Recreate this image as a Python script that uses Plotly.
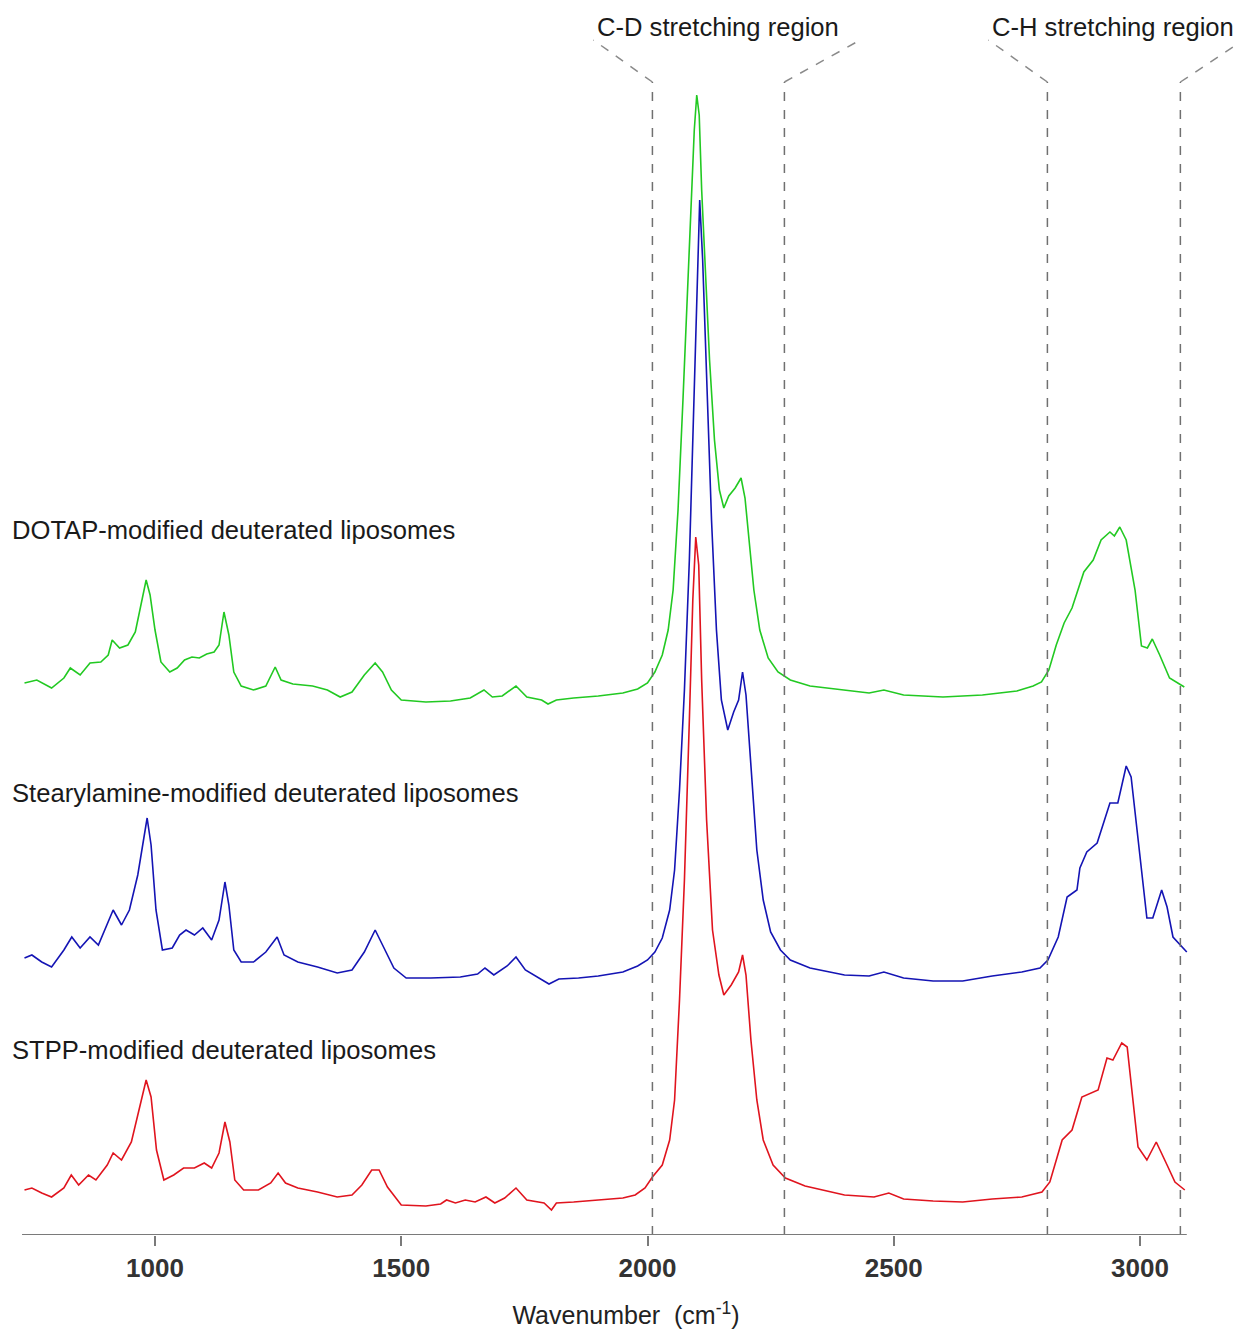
import plotly.graph_objects as go

# ---------------- data ----------------
# Raman intensity (arbitrary units, stacked spectra as displayed)
dotap_wn = [735, 760, 790, 815, 828, 848, 868, 890, 905, 913, 928, 945, 960, 972, 982, 990, 1000, 1012,
            1030, 1045, 1060, 1075, 1090, 1105, 1120, 1130, 1140, 1150, 1160, 1175, 1200, 1225, 1244, 1256,
            1280, 1320, 1350, 1376, 1400, 1425, 1447, 1462, 1480, 1500, 1550, 1600, 1640, 1668, 1685, 1705,
            1733, 1755, 1785, 1798, 1815, 1850, 1900, 1950, 1980, 2000, 2015, 2030, 2042, 2052, 2062, 2072,
            2082, 2090, 2095, 2100, 2105, 2110, 2118, 2126, 2136, 2146, 2155, 2165, 2178, 2190, 2198, 2206,
            2216, 2228, 2245, 2265, 2290, 2330, 2400, 2450, 2480, 2520, 2600, 2680, 2750, 2783, 2800, 2815,
            2830, 2846, 2862, 2886, 2905, 2921, 2939, 2948, 2959, 2972, 2990, 3003, 3015, 3025, 3040, 3060,
            3090]
dotap_int = [552, 555, 547, 557, 567, 560, 572, 573, 580, 595, 587, 590, 603, 630, 655, 640, 605, 573,
             563, 567, 575, 578, 577, 581, 583, 590, 623, 600, 563, 549, 545, 549, 568, 555,
             551, 549, 545, 538, 543, 560, 572, 563, 545, 535, 533, 534, 537, 545, 538, 539,
             549, 538, 535, 531, 535, 537, 539, 542, 546, 552, 563, 580, 605, 645, 725, 835,
             955, 1045, 1105, 1140, 1120, 1045, 960, 875, 795, 745, 727, 739, 747, 757, 737, 695,
             645, 605, 577, 563, 555, 549, 545, 542, 545, 540, 538, 540, 544, 549, 553, 565,
             590, 612, 627, 663, 675, 695, 703, 699, 708, 695, 645, 589, 587, 596, 580, 557,
             548]

stearyl_wn = [735, 750, 770, 790, 815, 831, 848, 868, 885, 903, 915, 932, 948, 965, 976, 984, 992, 1002,
              1015, 1035, 1050, 1063, 1080, 1097, 1115, 1130, 1142, 1150, 1160, 1175, 1200, 1225, 1248, 1262,
              1290, 1330, 1370, 1400, 1425, 1447, 1462, 1485, 1510, 1560, 1620, 1655, 1670, 1688, 1715, 1733,
              1752, 1785, 1800, 1820, 1860, 1900, 1950, 1980, 2000, 2015, 2030, 2045, 2055, 2065, 2075, 2085,
              2093, 2100, 2106, 2112, 2120, 2130, 2140, 2150, 2163, 2175, 2185, 2193, 2200, 2210, 2222, 2235,
              2250, 2270, 2290, 2330, 2400, 2450, 2480, 2520, 2580, 2640, 2700, 2760, 2797, 2813, 2834, 2852,
              2872, 2878, 2892, 2913, 2939, 2955, 2972, 2982, 3000, 3014, 3026, 3044, 3055, 3067, 3095]
stearyl_int = [277, 280, 273, 268, 285, 298, 287, 298, 290, 310, 325, 310, 325, 360, 395, 417, 390, 325,
               285, 287, 300, 305, 300, 307, 295, 315, 353, 330, 285, 273, 273, 283, 298, 280,
               273, 268, 262, 265, 283, 305, 290, 267, 257, 257, 258, 261, 267, 260, 269, 278,
               265, 255, 251, 256, 257, 259, 263, 269, 275, 283, 297, 325, 365, 445, 545, 675,
               815, 955, 1035, 975, 855, 715, 605, 535, 505, 523, 535, 563, 540, 465, 385, 335,
               303, 285, 275, 267, 260, 259, 263, 257, 254, 254, 259, 263, 267, 275, 298, 338,
               345, 367, 383, 392, 432, 432, 469, 458, 375, 317, 317, 345, 328, 298, 283]

stpp_wn = [735, 750, 770, 790, 815, 830, 845, 865, 880, 903, 915, 932, 952, 968, 982, 992, 1003, 1018,
           1038, 1058, 1080, 1100, 1115, 1130, 1142, 1152, 1162, 1180, 1210, 1235, 1250, 1265, 1290, 1330,
           1370, 1400, 1420, 1440, 1455, 1472, 1500, 1550, 1580, 1592, 1610, 1630, 1650, 1672, 1690, 1710,
           1733, 1755, 1790, 1805, 1815, 1850, 1900, 1950, 1975, 1995, 2010, 2030, 2045, 2055, 2065, 2075,
           2085, 2092, 2098, 2104, 2110, 2120, 2132, 2145, 2155, 2170, 2185, 2193, 2200, 2210, 2222, 2235,
           2255, 2280, 2320, 2400, 2460, 2490, 2520, 2580, 2640, 2700, 2760, 2801, 2817, 2842, 2862, 2882,
           2915, 2933, 2945, 2963, 2974, 2996, 3014, 3033, 3055, 3071, 3091]
stpp_int = [45, 47, 42, 38, 47, 60, 50, 60, 55, 70, 82, 75, 93, 125, 155, 138, 85, 55,
            60, 67, 67, 72, 67, 82, 113, 93, 55, 45, 45, 52, 62, 52, 47, 43,
            38, 40, 50, 65, 65, 48, 30, 29, 31, 35, 32, 35, 33, 38, 32, 37,
            47, 35, 32, 25, 32, 33, 35, 37, 40, 47, 58, 70, 95, 135, 235, 355,
            515, 635, 698, 670, 555, 415, 305, 260, 240, 250, 263, 280, 260, 195, 135, 95,
            70, 57, 49, 40, 38, 42, 36, 34, 33, 36, 38, 43, 53, 95, 105, 138,
            145, 177, 175, 192, 188, 88, 75, 93, 70, 53, 45]

series_names = ["DOTAP-modified deuterated liposomes",
                "Stearylamine-modified deuterated liposomes",
                "STPP-modified deuterated liposomes"]
series_colors = ["#22c922", "#1414b4", "#e0141e"]
label_levels = [705, 442, 185]          # label heights (intensity units)

region_bounds = [2010, 2278, 2812, 3082]  # cm-1, dashed region limits
region_labels = ["C-D stretching region", "C-H stretching region"]
region_label_x = [2143, 2945]

tick_vals = [1000, 1500, 2000, 2500, 3000]
x_min, x_max = 730, 3095

# ---------------- figure ----------------
fig = go.Figure()
for wn, inten, name, col in zip([dotap_wn, stearyl_wn, stpp_wn],
                                [dotap_int, stearyl_int, stpp_int],
                                series_names, series_colors):
    fig.add_trace(go.Scatter(x=wn, y=inten, mode="lines", name=name,
                             line=dict(color=col, width=1.6), showlegend=False))

FONT = "Liberation Sans, Arial, sans-serif"

for name, lv in zip(series_names, label_levels):
    fig.add_annotation(x=706, y=lv, xref="x", yref="y", text=name, showarrow=False,
                       xanchor="left", yanchor="middle",
                       font=dict(family=FONT, size=25.6, color="#1a1a1a"))

# dashed region markers
top_v = 1153
top_d = 1195
offsets = [-120, 154, -120, 128]
for b, off in zip(region_bounds, offsets):
    fig.add_shape(type="line", x0=b, x1=b, y0=0, y1=top_v, xref="x", yref="y",
                  line=dict(color="#707070", width=1.5, dash="dash"))
    fig.add_shape(type="line", x0=b, x1=b + off, y0=top_v, y1=top_d, xref="x", yref="y",
                  line=dict(color="#8a8a8a", width=1.5, dash="dash"))

for lab, lx in zip(region_labels, region_label_x):
    fig.add_annotation(x=lx, y=1208, xref="x", yref="y", text=lab, showarrow=False,
                       xanchor="center", yanchor="middle",
                       font=dict(family=FONT, size=25.6, color="#1a1a1a"))

# x axis baseline
fig.add_shape(type="line", x0=x_min, x1=x_max, y0=0, y1=0, xref="x", yref="y",
              line=dict(color="#7a7a7a", width=2))

fig.update_layout(
    width=1238, height=1326,
    margin=dict(l=0, r=2, t=0, b=99),
    paper_bgcolor="white", plot_bgcolor="white",
    xaxis=dict(range=[701.5, 3211.2], showgrid=False, zeroline=False, showline=False,
               ticks="outside", ticklen=10, tickwidth=1.5, tickcolor="#7a7a7a",
               tickvals=tick_vals, ticktext=["<b>%d</b>" % v for v in tick_vals],
               tickfont=dict(family=FONT, size=26, color="#333333"),
               title=dict(text="Wavenumber  (cm<sup>-1</sup>)", standoff=24,
                          font=dict(family=FONT, size=25, color="#222222"))),
    yaxis=dict(range=[0, 1227], visible=False, fixedrange=True),
)

fig.write_html("out.html")
